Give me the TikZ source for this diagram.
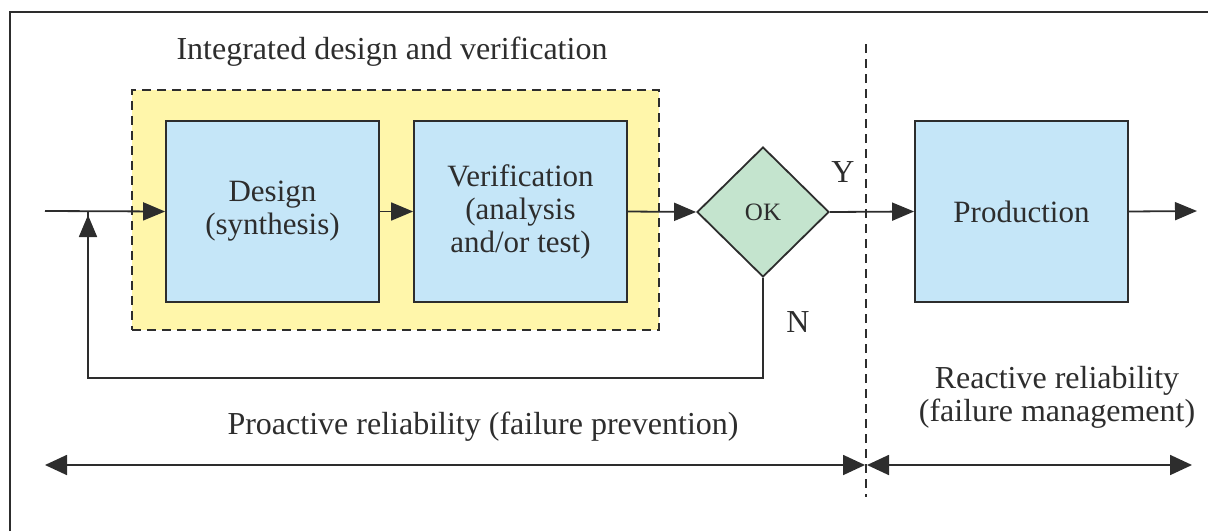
\documentclass[tikz,border=0pt]{standalone}
\usepackage{fontspec}
\setmainfont{Liberation Serif}
\usetikzlibrary{arrows.meta,shapes.geometric}
\definecolor{boxblue}{RGB}{197,230,248}
\definecolor{zoneyellow}{RGB}{255,246,170}
\definecolor{okgreen}{RGB}{196,228,206}
\definecolor{ink}{RGB}{45,45,45}
\begin{document}
\begin{tikzpicture}[x=1pt,y=-1pt,
  stagebox/.style={draw=ink, line width=1.8pt, fill=boxblue, minimum width=213pt,
    minimum height=181pt, align=center, inner sep=0pt,
    font=\fontsize{31}{33}\selectfont, text=ink},
  flow/.style={draw=ink, line width=1.8pt, -{Triangle[length=22pt,width=18pt]}},
  bothway/.style={draw=ink, line width=1.8pt,
    {Triangle[length=22pt,width=20pt]}-{Triangle[length=22pt,width=20pt]}},
  divider/.style={draw=ink, line width=1.5pt, dash pattern=on 9pt off 6pt},
  lbl/.style={font=\fontsize{32}{33}\selectfont, text=ink, align=center, inner sep=0pt}
]
\useasboundingbox (0,0) rectangle (1208,531);

% outer frame (top and left edges)
\draw[ink, line width=2.5pt] (10,531) -- (10,12) -- (1208,12);

% integrated design and verification zone
\node[draw=ink, fill=zoneyellow, line width=1.5pt, dash pattern=on 9pt off 6pt,
  minimum width=527pt, minimum height=240pt, inner sep=0pt] (zone) at (395.5,210) {};
\node[lbl] (ttl) at (392,52) {Integrated design and verification};

% process stages
\node[stagebox] (design) at (272.5,211.5) {Design\\(synthesis)};
\node[stagebox] (verif) at (520.5,211.5) {Verification\\(analysis\\and/or test)};
\node[draw=ink, line width=1.8pt, fill=okgreen, shape=diamond, inner sep=0pt,
  minimum width=132pt, minimum height=130pt, text=ink,
  font=\fontsize{25}{29}\selectfont] (ok) at (763,212) {OK};
\node[stagebox] (prod) at (1021.5,211.5) {Production};

% flow connectors
\coordinate (in) at (45,211);
\coordinate (out) at (1197,211);
\draw[flow] (in) -- (design.west);
\draw[flow] (design.east) -- (verif.west);
\draw[flow] (verif.east) -- (ok.west);
\draw[flow] (ok.east) -- (prod.west);
\draw[flow] (prod.east) -- (out);

% feedback loop from the decision back to the input
\coordinate (fbturn) at (88,378);
\coordinate (fbtip) at (88,215);
\draw[draw=ink, line width=1.8pt] (fbturn) -- (88,211);
\draw[flow] (ok.south) |- (fbturn) -- (fbtip);

\node[lbl] (yes) at (843,172) {Y};
\node[lbl] (no) at (798,322) {N};

% boundary between proactive and reactive phases
\coordinate (divtop) at (866,44);
\coordinate (divbot) at (866,497);
\draw[divider] (divtop) -- (divbot);

% phase spans
\coordinate (pl) at (45,465);
\coordinate (pm1) at (865,465);
\coordinate (pm2) at (867,465);
\coordinate (pr) at (1192,465);
\draw[bothway] (pl) -- (pm1);
\draw[bothway] (pm2) -- (pr);

\node[lbl] (pro) at (483,427) {Proactive reliability (failure prevention)};
\node[lbl] (rea) at (1057,397) {Reactive reliability\\(failure management)};
\end{tikzpicture}
\end{document}
